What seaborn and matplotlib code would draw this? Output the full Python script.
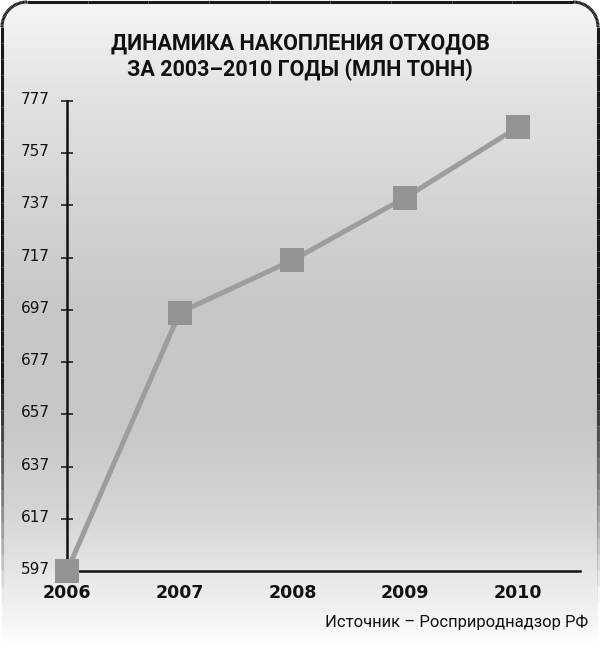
import numpy as np
import pandas as pd
import matplotlib
matplotlib.use("Agg")
import matplotlib.pyplot as plt
import seaborn as sns
from matplotlib.collections import LineCollection
from matplotlib.patches import FancyBboxPatch
from matplotlib.transforms import ScaledTranslation

# ==========================================
# Data
# ==========================================
years = ["2006", "2007", "2008", "2009", "2010"]
waste = [597, 696, 716, 740, 767]
y_ticks = [597, 617, 637, 657, 677, 697, 717, 737, 757, 777]

title = "ДИНАМИКА НАКОПЛЕНИЯ ОТХОДОВ\nЗА 2003–2010 ГОДЫ (МЛН ТОНН)"
source = "Источник – Росприроднадзор РФ"

df = pd.DataFrame({"pos": np.arange(len(years)), "value": waste})

sns.set_theme(style="white")
plt.rcParams['font.family'] = ['DejaVu Sans']

W, H = 600, 658
fig = plt.figure(figsize=(W / 100, H / 100), dpi=100)
fig.patch.set_facecolor("white")

# ==========================================
# Background panel (gradient + fading frame)
# ==========================================
bg = fig.add_axes([0, 0, 1, 1], zorder=0)
bg.set_xlim(0, W)
bg.set_ylim(H, 0)
bg.axis("off")

rows = np.arange(H)
stops_y = [0, 100, 300, 430, 520, 600, 650, 658]
stops_c = [0.96, 0.88, 0.78, 0.78, 0.84, 0.93, 1.0, 1.0]
col = np.interp(rows, stops_y, stops_c)
grad = np.repeat(col[:, None], W, axis=1)
img = bg.imshow(grad, cmap="gray", vmin=0, vmax=1, extent=[0, W, H, 0],
                aspect="auto", interpolation="nearest")
clip = FancyBboxPatch((2, 2), W - 4, H + 40, boxstyle="round,pad=0,rounding_size=25",
                      transform=bg.transData, facecolor="none", edgecolor="none")
bg.add_patch(clip)
img.set_clip_path(clip)

# frame: top and sides, fading towards the bottom
r = 25
t = np.linspace(np.pi, 1.5 * np.pi, 30)
left = np.column_stack([np.full(40, 2.0), np.linspace(650, 2 + r, 40)])
arc1 = np.column_stack([2 + r + r * np.cos(t), 2 + r + r * np.sin(t)])
top = np.column_stack([np.linspace(2 + r, W - 2 - r, 10), np.full(10, 2.0)])
t2 = np.linspace(1.5 * np.pi, 2 * np.pi, 30)
arc2 = np.column_stack([W - 2 - r + r * np.cos(t2), 2 + r + r * np.sin(t2)])
right = np.column_stack([np.full(40, W - 2.0), np.linspace(2 + r, 650, 40)])
pts = np.vstack([left, arc1, top, arc2, right])
segs = np.stack([pts[:-1], pts[1:]], axis=1)
mid_y = segs[:, :, 1].mean(axis=1)
alpha = np.clip((600 - mid_y) / (600 - 380), 0, 1)
colors = [(0.1, 0.1, 0.1, a) for a in alpha]
bg.add_collection(LineCollection(segs, colors=colors, linewidths=2.2, capstyle="butt"))

# ==========================================
# Chart
# ==========================================
px = lambda v: v / W
py = lambda v: v / H
ax = fig.add_axes([px(67), py(H - 571), px(580 - 67), py(571 - 101)], zorder=2)
ax.patch.set_alpha(0)

sns.lineplot(data=df, x="pos", y="value", ax=ax, color="#9d9d9d", linewidth=3.6,
             marker="s", markersize=17, markerfacecolor="#939393",
             markeredgewidth=0, clip_on=False, zorder=3)

ax.set_xlim(0, 4.55)
ax.set_ylim(597, 777)
ax.set_yticks(y_ticks)
ax.set_yticklabels([str(v) for v in y_ticks], fontsize=11, color="#111111",
                   family="DejaVu Sans")
ax.set_xticks(df["pos"])
ax.set_xticklabels(years, fontsize=12.5, fontweight="bold", color="#111111",
                   family="DejaVu Sans")
ax.set_xlabel("")
ax.set_ylabel("")

for s in ["top", "right"]:
    ax.spines[s].set_visible(False)
for s in ["left", "bottom"]:
    ax.spines[s].set_color("#111111")
    ax.spines[s].set_linewidth(1.8)
    ax.spines[s].set_zorder(1)

ax.tick_params(axis="y", left=True, direction="inout", length=9, width=1.1,
               color="#111111", pad=8)
ax.tick_params(axis="x", bottom=False, length=0, pad=9)

off = ScaledTranslation(0, 3 / 100, fig.dpi_scale_trans)
for lbl in ax.get_yticklabels():
    lbl.set_transform(lbl.get_transform() + off)

fig.text(0.5, 1 - py(57), title, ha="center", va="center", fontsize=15.5,
         fontweight="bold", linespacing=1.25, color="#111111",
         family=["Liberation Sans Narrow", "Roboto", "DejaVu Sans"], zorder=3)
fig.text(px(588), 1 - py(622), source, ha="right", va="center", fontsize=12,
         color="#111111", family=["Liberation Sans Narrow", "Roboto", "DejaVu Sans"], zorder=3)

fig.savefig("out.png", dpi=100, facecolor="white")
